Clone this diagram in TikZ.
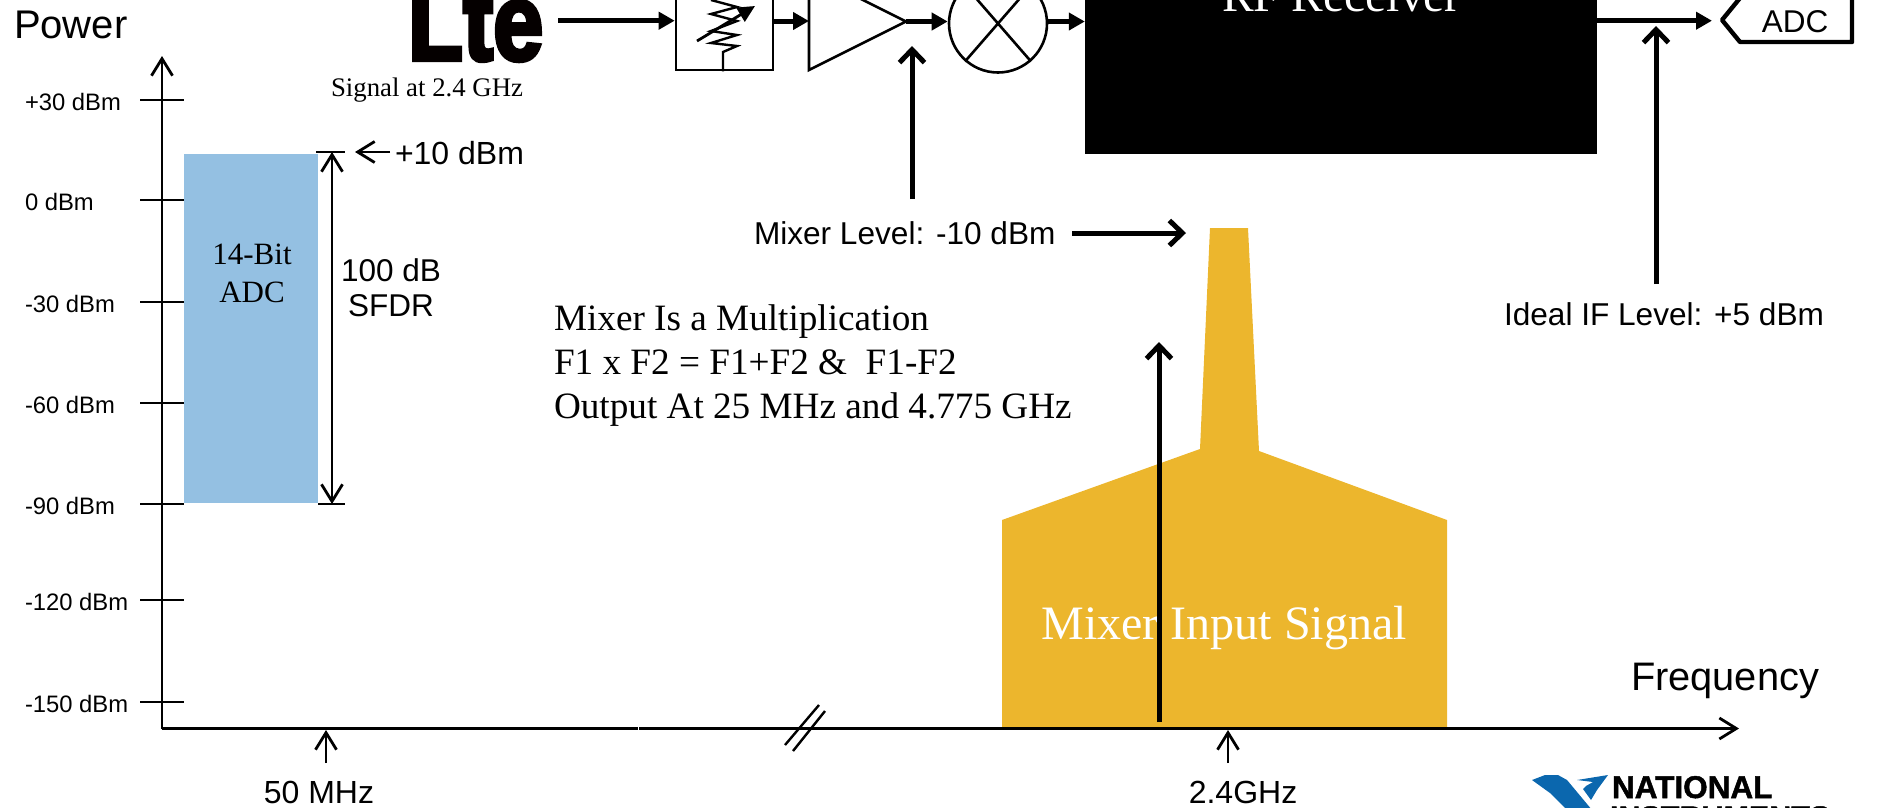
\documentclass[tikz,border=0pt]{standalone}
\usepackage{fontspec}
\setmainfont{Liberation Serif}
\setsansfont{Liberation Sans}
\newfontfamily\ltefont[FakeBold=4]{Liberation Sans Bold}
\newfontfamily\nifont[FakeBold=1.5]{Liberation Sans Bold}
\usetikzlibrary{arrows.meta}
\definecolor{adcblue}{HTML}{94C0E2}
\definecolor{gold}{HTML}{ECB62D}
\definecolor{niblue}{HTML}{0B67AE}
\tikzset{
  lbl/.style={inner sep=0pt,outer sep=0pt,text=black},
  sans/.style={lbl,font=\sffamily\fontsize{#1}{#1}\selectfont},
  serif/.style={lbl,font=\rmfamily\fontsize{#1}{#1}\selectfont},
  thick arrow/.style={line width=5pt,-{Triangle[length=16pt,width=17pt]}},
  open arrow/.style={line width=5pt,-{Straight Barb[length=13pt,width=25pt,line width=5pt]}},
  thin arrow/.style={line width=2.8pt,-{Straight Barb[length=17pt,width=21pt,line width=2.8pt]}},
  both arrow/.style={line width=2.8pt,{Straight Barb[length=17pt,width=21pt,line width=2.8pt]}-{Straight Barb[length=17pt,width=21pt,line width=2.8pt]}},
  ruleline/.style={line width=2.8pt},
  blockline/.style={line width=2.6pt,draw=black},
}
\begin{document}
\begin{tikzpicture}[x=1pt,y=-1pt]
\useasboundingbox (0,0) rectangle (1882,807);

% logo
\node[lbl,anchor=base west,font=\ltefont\fontsize{110}{110}\selectfont,text=black!98!red] (lte) at (408,60) {\scalebox{0.82}[1]{Lte}};
\node[serif=26.8,anchor=base west] (sig) at (331,96) {Signal at 2.4 GHz};

% chain
\coordinate (ltea) at (558,20.7);
\node[blockline,rectangle,minimum width=97pt,minimum height=80pt,inner sep=0pt] (att) at (724.5,30) {};
\coordinate (stub) at (723,52);
\draw[line width=2.4pt,line join=miter] (att.south -| stub) -- (stub) -- (737,46) -- (711,43) -- (737,35) -- (711,31) -- (737,21) -- (711,14) -- (737,7) -- (711,0);
\coordinate (resa) at (697,41);
\coordinate (resb) at (755,6);
\draw[line width=2.8pt,-{Triangle[length=17pt,width=16pt]}] (resa) -- (resb);
\coordinate (ampin) at (809,21);
\coordinate (amptip) at (906,21.5);
\draw[blockline,line join=miter] (809,-27) -- (amptip) -- (809,70) -- cycle;
\node[blockline,circle,minimum size=98pt,inner sep=0pt] (mix) at (998,23.5) {};
\draw[line width=2.6pt] (mix.229) -- (mix.49) (mix.131) -- (mix.-49);
\node[rectangle,fill=black,minimum width=512pt,minimum height=164pt,inner sep=0pt] (rx) at (1341,72) {};
\node[serif=47.5,anchor=base west,text=white] (rxl) at (1222,11.5) {RF Receiver};
\draw[thick arrow] (ltea) -- (att.west |- ltea);
\draw[thick arrow] (att.east |- ampin) -- (ampin);
\draw[thick arrow] (amptip) -- (mix.west |- amptip);
\draw[thick arrow] (mix.east |- amptip) -- (rx.west |- amptip);
\coordinate (adcp) at (1712,20.7);
\draw[thick arrow] (rx.east |- adcp) -- (adcp);
\coordinate (adctip) at (1722,20);
\draw[line width=4.4pt,line join=round] (1852,-5) -- (1852,42) -- (1740,42) -- (adctip) -- (1740,-2);
\node[sans=31.5] (adc) at (1795,22) {ADC};

% mixer level
\node[sans=31.6,anchor=base west] (mlev) at (754,244) {Mixer Level: -10 dBm};
\coordinate (mleva) at (912,199);
\coordinate (mlevb) at (912,46);
\draw[open arrow] (mleva) -- (mlevb);
\coordinate (mlevc) at (1072,233);
\coordinate (mlevd) at (1186,233);
\draw[open arrow] (mlevc) -- (mlevd);

% ideal IF
\node[sans=31.6,anchor=base west] (ifl) at (1504,325) {Ideal IF Level: +5 dBm};
\coordinate (ifa) at (1656,284);
\coordinate (ifb) at (1656,26);
\draw[open arrow] (ifa) -- (ifb);

% mixer text
\node[serif=37.2,anchor=base west] (m1) at (554,330) {Mixer Is a Multiplication};
\node[serif=37.2,anchor=base west] (m2) at (554,374) {F1 x F2 = F1+F2 \&\ \ F1-F2};
\node[serif=37.2,anchor=base west] (m3) at (554,418) {Output At 25 MHz and 4.775 GHz};

% signal
\fill[gold] (1002,520) -- (1200,449) -- (1210,228) -- (1248,228) -- (1259,451) -- (1447,520) -- (1447,727) -- (1002,727) -- cycle;
\node[serif=48,text=white] (sigl) at (1224,628) {Mixer Input Signal};
\coordinate (inpa) at (1159,722);
\coordinate (inpb) at (1159,342);
\draw[open arrow] (inpa) -- (inpb);

% ADC bar
\node[rectangle,fill=adcblue,minimum width=134pt,minimum height=349pt,inner sep=0pt] (bar) at (251,328.5) {};
\node[serif=31] (b1) at (252,254) {14-Bit};
\node[serif=31] (b2) at (252,292) {ADC};
\draw[ruleline] (316,152) -- (345,152) (318,504) -- (345,504);
\coordinate (dra) at (332,152);
\coordinate (drb) at (332,504);
\draw[both arrow] (dra) -- (drb);
\node[sans=32,anchor=base west] (p10) at (395,164) {+10 dBm};
\coordinate (tena) at (390,152);
\coordinate (tenb) at (355,152);
\draw[thin arrow] (tena) -- (tenb);
\node[sans=31.5] (d1) at (391,270) {100 dB};
\node[sans=31.5] (d2) at (391,306) {SFDR};

% axes
\node[sans=40,anchor=base west] (pw) at (14,38) {Power};
\coordinate (org) at (162,728.5);
\coordinate (yend) at (162,56);
\coordinate (xend) at (1739,728.5);
\draw[thin arrow] (org) -- (yend);
\draw[thin arrow] (org) -- (xend);
\draw[white,line width=1pt] (638,726) -- (638,731);
\foreach \yy/\txt in {100/+30 dBm,200/0 dBm,302/-30 dBm,403/-60 dBm,504/-90 dBm,600/-120 dBm,702/-150 dBm}{
  \draw[ruleline] (140,\yy) -- (184,\yy);
  \node[sans=23.8,anchor=base west] at (25,\yy+10) {\txt};
}
\draw[line width=2.4pt] (819,705) -- (785,745) (825,711) -- (793,751);
\node[sans=39.8,anchor=base west] (freq) at (1631,690) {Frequency};
\coordinate (fa) at (326,763); \coordinate (fb) at (326,730);
\draw[thin arrow] (fa) -- (fb);
\node[sans=32] (f50) at (319,792) {50 MHz};
\coordinate (ga) at (1228,763); \coordinate (gb) at (1228,730);
\draw[thin arrow] (ga) -- (gb);
\node[sans=32] (f24) at (1243,792) {2.4GHz};

% NI logo
\fill[niblue] (1532,780) -- (1545,775) -- (1558,775) -- (1567,780) -- (1592,810) -- (1567,810) -- (1550,793) -- cycle;
\fill[niblue] (1577,780) -- (1608,775) -- (1597,790) -- (1591,800) -- (1583,789) -- (1586,786) -- (1593,782) -- (1585,781) -- cycle;
\node[lbl,anchor=base west,font=\nifont\fontsize{31.5}{31.5}\selectfont] (ni1) at (1612,798) {NATIONAL};
\node[lbl,anchor=base west,font=\nifont\fontsize{30.5}{30.5}\selectfont] (ni2) at (1610,827.5) {INSTRUMENTS};
\end{tikzpicture}
\end{document}
